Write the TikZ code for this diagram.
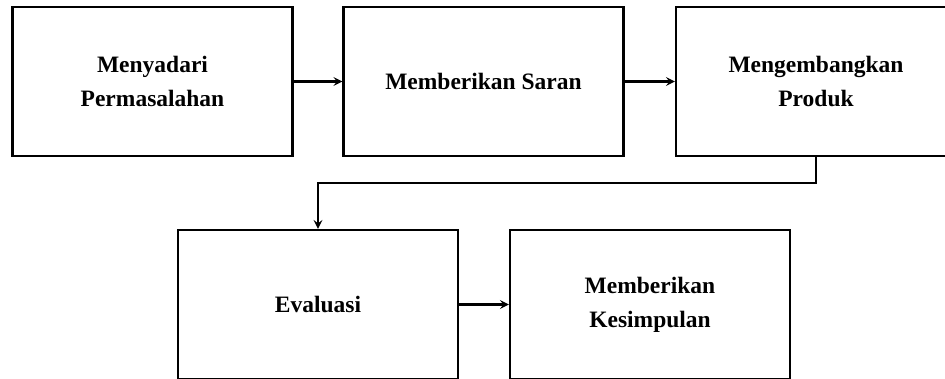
\documentclass[tikz,border=0pt]{standalone}
\usepackage{fontspec}
\setmainfont{Liberation Serif}
\usetikzlibrary{arrows.meta}
\begin{document}
\begin{tikzpicture}
		[x=1pt,y=1pt,
		stagebox/.style={rectangle,draw,line width=2.2pt,minimum width=280pt,minimum height=149pt,align=center,
			font=\bfseries\fontsize{23.5}{34}\selectfont},
		flowarrow/.style={line width=2.2pt,-{Stealth[length=9pt,width=9pt,inset=3.5pt]}}]
		\useasboundingbox (0,0) rectangle (945,-379);
		\node[stagebox,name=1] at (152.5,-81.5) {Menyadari\\Permasalahan};
		\node[stagebox,name=2] at (483.5,-81.5) {Memberikan Saran};
		\node[stagebox,name=3] at (816,-81.5) {Mengembangkan\\Produk};
		\node[stagebox,name=4] at (318,-304.5) {Evaluasi};
		\node[stagebox,name=5] at (650,-304.5) {Memberikan\\Kesimpulan};
		\foreach \a/\b in {1/2,2/3,4/5}
		{
			\draw[flowarrow] (\a.east) -- (\b.west);
		}
		\draw[flowarrow] (3.south) -- ++(0,-26) -| (4.north);
	\end{tikzpicture}
\end{document}
